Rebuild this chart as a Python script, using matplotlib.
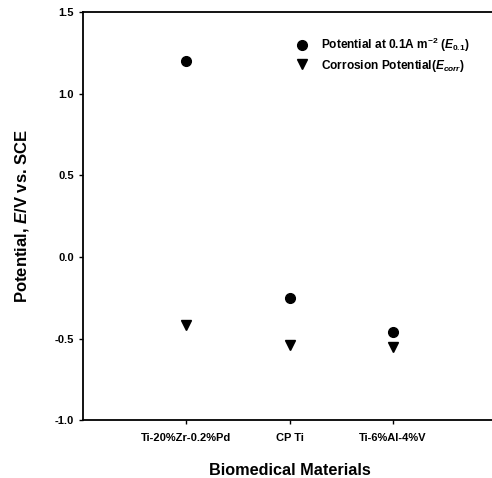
import numpy as np
import matplotlib.pyplot as plt

plt.rcParams['font.family'] = ['Liberation Sans', 'DejaVu Sans']
plt.rcParams['mathtext.fontset'] = 'custom'
plt.rcParams['mathtext.it'] = 'Liberation Sans:bold:italic'
plt.rcParams['mathtext.rm'] = 'Liberation Sans:bold'
plt.rcParams['mathtext.bf'] = 'Liberation Sans:bold'

# Dados
materiais = ['Ti-20%Zr-0.2%Pd', 'CP Ti', 'Ti-6%Al-4%V']
e_01 = [1.20, -0.25, -0.46]
e_corr = [-0.42, -0.54, -0.55]
y_ticks = [-1.0, -0.5, 0.0, 0.5, 1.0, 1.5]

fig = plt.figure(figsize=(4.92, 4.78), dpi=100)
ax = fig.add_axes([0.169, 0.121, 0.84, 0.854])

x = np.arange(1, len(materiais) + 1)
ax.plot(x, e_01, 'o', color='black', markersize=7,
        label=r'Potential at 0.1A m$^{-2}$ ($E_{0.1}$)')
ax.plot(x, e_corr, 'v', color='black', markersize=7,
        label=r'Corrosion Potential($E_{corr}$)')

ax.set_xlim(0, 4)
ax.set_ylim(-1.0, 1.5)
ax.set_xticks(x)
ax.set_xticklabels(materiais, fontsize=8, fontweight='bold')
ax.set_yticks(y_ticks)
ax.set_yticklabels([f'{v:.1f}' for v in y_ticks], fontsize=8, fontweight='bold')
ax.tick_params(direction='out', length=3, width=1)
ax.tick_params(axis='x', pad=6)

ax.spines['right'].set_visible(False)
for s in ['left', 'top', 'bottom']:
    ax.spines[s].set_linewidth(1.3)

ax.set_xlabel('Biomedical Materials', fontsize=11.7, fontweight='bold', labelpad=15)
ax.set_ylabel(r'Potential, $E$/V vs. SCE', fontsize=12, fontweight='bold', labelpad=17)

leg = ax.legend(loc='upper left', bbox_to_anchor=(0.475, 0.968), frameon=False,
                prop={'weight': 'bold', 'size': 8.6},
                handletextpad=0.6, labelspacing=0.3)

fig.savefig('out.png', dpi=100)
